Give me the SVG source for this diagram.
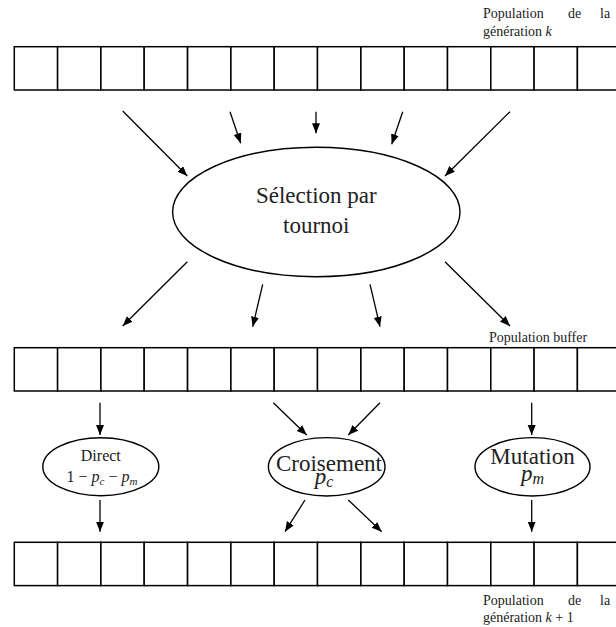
<svg xmlns="http://www.w3.org/2000/svg" width="616" height="627" viewBox="0 0 616 627">
<style>
.cell{fill:#fff;stroke:#000;stroke-width:1.5}
.node{fill:#fff;stroke:#000;stroke-width:1.4}
.conn line{stroke:#000;stroke-width:1.3;marker-end:url(#ah)}
text{font-family:"Liberation Serif","DejaVu Serif",serif;fill:#222}
.lbl{font-size:14px}
.big{font-size:23px}
.mid{font-size:16px}
.it{font-style:italic}
</style>
<defs>
<marker id="ah" markerUnits="userSpaceOnUse" markerWidth="11" markerHeight="9" refX="10" refY="4" orient="auto">
<path d="M0,0 L10,4 L0,8 z" fill="#000"/>
</marker>
<g id="row">
<rect class="cell" x="14.3" y="0" width="43.3" height="43.3"/>
<rect class="cell" x="57.6" y="0" width="43.3" height="43.3"/>
<rect class="cell" x="100.9" y="0" width="43.3" height="43.3"/>
<rect class="cell" x="144.2" y="0" width="43.3" height="43.3"/>
<rect class="cell" x="187.6" y="0" width="43.3" height="43.3"/>
<rect class="cell" x="230.9" y="0" width="43.3" height="43.3"/>
<rect class="cell" x="274.2" y="0" width="43.3" height="43.3"/>
<rect class="cell" x="317.5" y="0" width="43.3" height="43.3"/>
<rect class="cell" x="360.9" y="0" width="43.3" height="43.3"/>
<rect class="cell" x="404.2" y="0" width="43.3" height="43.3"/>
<rect class="cell" x="447.5" y="0" width="43.3" height="43.3"/>
<rect class="cell" x="490.8" y="0" width="43.3" height="43.3"/>
<rect class="cell" x="534.1" y="0" width="43.3" height="43.3"/>
<rect class="cell" x="577.4" y="0" width="43.3" height="43.3"/>
</g>
</defs>

<g id="pop-k">
<use href="#row" y="46.7"/>
<text class="lbl" y="18"><tspan x="483">Population</tspan><tspan x="568">de</tspan><tspan x="600">la</tspan></text>
<text class="lbl" x="483" y="36">génération <tspan class="it">k</tspan></text>
</g>

<g id="pop-buffer">
<use href="#row" y="347.7"/>
<text class="lbl" x="489" y="342">Population buffer</text>
</g>

<g id="pop-k1">
<use href="#row" y="542.3"/>
<text class="lbl" y="605"><tspan x="483">Population</tspan><tspan x="568">de</tspan><tspan x="600">la</tspan></text>
<text class="lbl" x="483" y="622">génération <tspan class="it">k</tspan> + 1</text>
</g>

<g id="selection">
<ellipse class="node" cx="316.3" cy="212" rx="143.7" ry="64.7"/>
<text class="big" x="316.3" y="203" text-anchor="middle">Sélection par</text>
<text class="big" x="316.3" y="233" text-anchor="middle">tournoi</text>
</g>

<g id="direct">
<ellipse class="node" cx="100.8" cy="466.7" rx="58" ry="29"/>
<text class="mid" x="100.8" y="461" text-anchor="middle">Direct</text>
<text class="mid" x="102" y="482" text-anchor="middle">1 − <tspan class="it">p</tspan><tspan font-size="11" dy="3" class="it">c</tspan><tspan dy="-3"> − </tspan><tspan class="it">p</tspan><tspan font-size="11" dy="3" class="it">m</tspan></text>
</g>

<g id="croisement">
<ellipse class="node" cx="326.7" cy="466.8" rx="58.3" ry="29.2"/>
<text class="big" x="329" y="471" text-anchor="middle">Croisement</text>
<text class="big" x="324" y="484" text-anchor="middle"><tspan class="it">p</tspan><tspan font-size="16" dy="3" class="it">c</tspan></text>
</g>

<g id="mutation">
<ellipse class="node" cx="532.5" cy="466.8" rx="57.5" ry="29.2"/>
<text class="big" x="532.5" y="464" text-anchor="middle">Mutation</text>
<text class="big" x="532.5" y="481" text-anchor="middle"><tspan class="it">p</tspan><tspan font-size="16" dy="3" class="it">m</tspan></text>
</g>

<g id="connectors" class="conn">
<line x1="122.7" y1="111" x2="187.3" y2="176"/>
<line x1="230" y1="111.7" x2="240.7" y2="143.3"/>
<line x1="316" y1="111.7" x2="316" y2="133.3"/>
<line x1="402.7" y1="111.7" x2="391.7" y2="144.3"/>
<line x1="510" y1="111.7" x2="445" y2="176"/>
<line x1="187.3" y1="261.7" x2="122.7" y2="326"/>
<line x1="262.7" y1="284.3" x2="252.7" y2="326.7"/>
<line x1="370" y1="284.3" x2="380" y2="326.7"/>
<line x1="445" y1="261.7" x2="510" y2="326"/>
<line x1="100" y1="402.7" x2="100" y2="435"/>
<line x1="273.3" y1="402.7" x2="306.7" y2="435"/>
<line x1="380" y1="402.7" x2="348.3" y2="435"/>
<line x1="531.7" y1="402.7" x2="531.7" y2="435"/>
<line x1="100" y1="500" x2="100" y2="531.7"/>
<line x1="305" y1="500" x2="285" y2="531.7"/>
<line x1="348.3" y1="500" x2="381.7" y2="531.7"/>
<line x1="531.7" y1="500" x2="531.7" y2="531.7"/>
</g>
</svg>
